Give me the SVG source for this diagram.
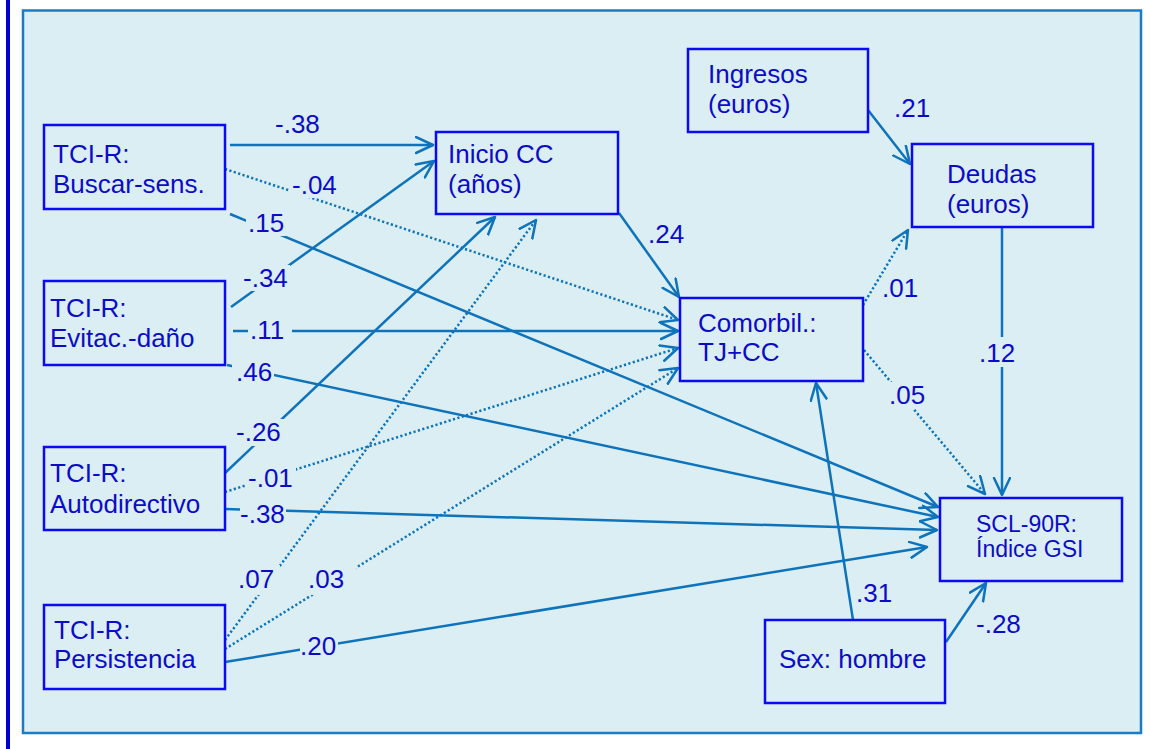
<svg xmlns="http://www.w3.org/2000/svg" width="1150" height="749" viewBox="0 0 1150 749">
<style>
.node rect{fill:#dbeef4;stroke:#0a0af5;stroke-width:2.5}
text{font-family:"Liberation Sans",Arial,sans-serif;font-size:26px;fill:#0c0cc8}
.small{font-size:23px}
.c{fill:none;stroke:#0e73ba;stroke-width:2.5}
.d{stroke-dasharray:2.2 2.4}
.lb{fill:#dbeef4}
</style>
<defs>
<marker id="ah" markerUnits="userSpaceOnUse" markerWidth="22" markerHeight="20" viewBox="0 0 22 20" refX="18" refY="9" orient="auto">
<path d="M1,1 L18,9 L1,17" fill="none" stroke="#0e73ba" stroke-width="2.5" stroke-linejoin="round" stroke-linecap="round" stroke-dasharray="none"/>
</marker>
</defs>
<rect x="0" y="0" width="1150" height="749" fill="#ffffff"/>
<line x1="8" y1="0" x2="8" y2="749" stroke="#0000cc" stroke-width="4"/>
<rect x="23" y="10.5" width="1118" height="722.5" fill="#dbeef4" stroke="#1a7cc4" stroke-width="2.5"/>

<g id="connectors">
<line class="c" x1="230" y1="145" x2="433" y2="145" marker-end="url(#ah)"/>
<line class="c d" x1="225" y1="169" x2="678" y2="320" marker-end="url(#ah)"/>
<line class="c" x1="230" y1="214" x2="938" y2="507" marker-end="url(#ah)"/>
<line class="c" x1="231" y1="307" x2="434" y2="161" marker-end="url(#ah)"/>
<line class="c" x1="233" y1="331" x2="678" y2="331" marker-end="url(#ah)"/>
<line class="c" x1="227" y1="365" x2="938" y2="517" marker-end="url(#ah)"/>
<line class="c" x1="225" y1="473" x2="495" y2="217" marker-end="url(#ah)"/>
<line class="c d" x1="225" y1="492" x2="678" y2="348" marker-end="url(#ah)"/>
<line class="c" x1="225" y1="509" x2="937" y2="530" marker-end="url(#ah)"/>
<line class="c d" x1="225" y1="640" x2="536" y2="220" marker-end="url(#ah)"/>
<line class="c d" x1="225" y1="649" x2="678" y2="368" marker-end="url(#ah)"/>
<line class="c" x1="225" y1="662" x2="927" y2="547" marker-end="url(#ah)"/>
<line class="c" x1="619" y1="213" x2="679" y2="297" marker-end="url(#ah)"/>
<line class="c" x1="868" y1="110" x2="910" y2="164" marker-end="url(#ah)"/>
<line class="c d" x1="863" y1="305" x2="908" y2="230" marker-end="url(#ah)"/>
<line class="c d" x1="864" y1="350" x2="985" y2="494" marker-end="url(#ah)"/>
<line class="c" x1="1002" y1="227" x2="1002" y2="495" marker-end="url(#ah)"/>
<line class="c" x1="853" y1="620" x2="816" y2="383" marker-end="url(#ah)"/>
<line class="c" x1="946" y1="642" x2="986" y2="583" marker-end="url(#ah)"/>
</g>

<g id="edge-labels">
<text x="275" y="133">-.38</text>
<rect class="lb" x="290" y="174" width="48" height="24"/><text x="292" y="194">-.04</text>
<rect class="lb" x="246" y="211" width="40" height="25"/><text x="248" y="232">.15</text>
<rect class="lb" x="241" y="265" width="49" height="26"/><text x="243" y="287">-.34</text>
<rect class="lb" x="248" y="318" width="44" height="24"/><text x="250" y="339">.11</text>
<rect class="lb" x="232" y="360" width="42" height="25"/><text x="236" y="381">.46</text>
<rect class="lb" x="234" y="419" width="50" height="27"/><text x="236" y="441">-.26</text>
<rect class="lb" x="246" y="466" width="50" height="25"/><text x="248" y="487">-.01</text>
<rect class="lb" x="240" y="499" width="46" height="29"/><text x="240" y="523">-.38</text>
<rect class="lb" x="234" y="565" width="46" height="30"/><text x="238" y="588">.07</text>
<rect class="lb" x="306" y="563" width="50" height="32"/><text x="308" y="588">.03</text>
<rect class="lb" x="300" y="631" width="38" height="28"/><text x="300" y="655">.20</text>
<text x="648" y="243">.24</text>
<text x="894" y="117">.21</text>
<rect class="lb" x="880" y="279" width="40" height="22"/><text x="882" y="297">.01</text>
<rect class="lb" x="977" y="337" width="40" height="30"/><text x="979" y="362">.12</text>
<rect class="lb" x="887" y="382" width="40" height="27"/><text x="889" y="404">.05</text>
<text x="856" y="602">.31</text>
<text x="976" y="633">-.28</text>
</g>

<g id="n-buscar" class="node"><rect x="44" y="125" width="181" height="84"/><text x="53" y="163">TCI-R:</text><text x="53" y="193">Buscar-sens.</text></g>
<g id="n-evitac" class="node"><rect x="44" y="281" width="181" height="84"/><text x="50" y="317">TCI-R:</text><text x="50" y="347">Evitac.-daño</text></g>
<g id="n-autodir" class="node"><rect x="44" y="447" width="181" height="83"/><text x="50" y="482">TCI-R:</text><text x="50" y="513">Autodirectivo</text></g>
<g id="n-persist" class="node"><rect x="44" y="605" width="181" height="84"/><text x="54" y="639">TCI-R:</text><text x="54" y="668">Persistencia</text></g>
<g id="n-inicio" class="node"><rect x="436" y="132" width="182" height="82"/><text x="448" y="163">Inicio CC</text><text x="448" y="193">(años)</text></g>
<g id="n-ingresos" class="node"><rect x="688" y="49" width="180" height="83"/><text x="708" y="83">Ingresos</text><text x="708" y="113">(euros)</text></g>
<g id="n-deudas" class="node"><rect x="912" y="144" width="181" height="83"/><text x="947" y="183">Deudas</text><text x="947" y="213">(euros)</text></g>
<g id="n-comorbil" class="node"><rect x="680" y="298" width="183" height="83"/><text x="698" y="332">Comorbil.:</text><text x="698" y="361">TJ+CC</text></g>
<g id="n-scl" class="node"><rect x="940" y="498" width="182" height="83"/><text class="small" x="976" y="532">SCL-90R:</text><text class="small" x="976" y="557">Índice GSI</text></g>
<g id="n-sex" class="node"><rect x="765" y="620" width="180" height="83"/><text x="779" y="668">Sex: hombre</text></g>
</svg>
